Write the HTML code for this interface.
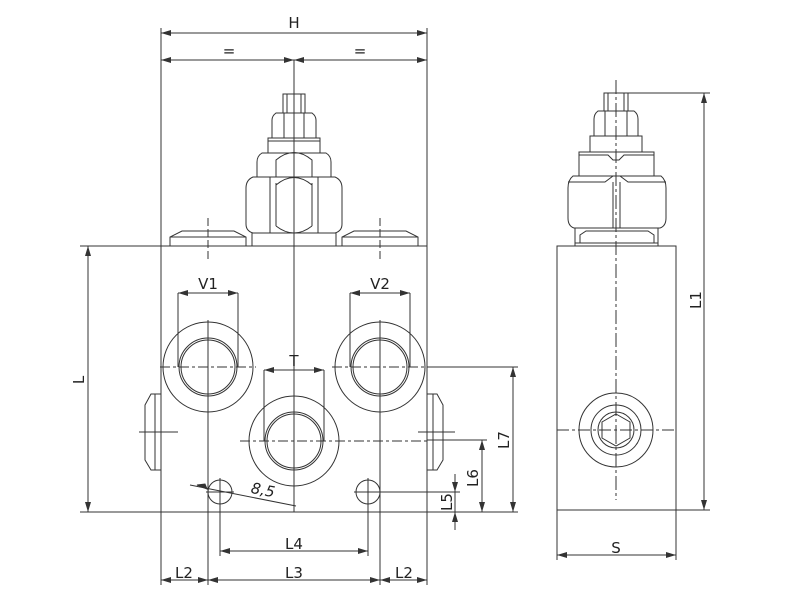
<!DOCTYPE html>
<html><head><meta charset="utf-8"><style>
html,body{margin:0;padding:0;background:#fff;}
svg{display:block}
text{font-family:"DejaVu Sans","Liberation Sans",sans-serif;fill:#222;font-size:15px}
</style></head><body>
<svg width="800" height="600" viewBox="0 0 800 600" xmlns="http://www.w3.org/2000/svg">
<defs>
<marker id="a" viewBox="0 0 10 6" refX="10" refY="3" markerWidth="10" markerHeight="6" orient="auto-start-reverse" markerUnits="userSpaceOnUse"><path d="M0,0 L10,3 L0,6 z" fill="#333"/></marker>
</defs>
<g stroke="#333" stroke-width="1" fill="none">
<!-- main block -->
<rect x="161" y="246" width="266" height="266"/>
<!-- extension lines -->
<line x1="161" y1="28" x2="161" y2="585"/>
<line x1="427" y1="28" x2="427" y2="585"/>
<line x1="80" y1="246" x2="161" y2="246"/>
<line x1="80" y1="512" x2="161" y2="512"/>
<line x1="294" y1="60" x2="294" y2="512"/>
<!-- dims -->
<line x1="161" y1="33" x2="427" y2="33" marker-start="url(#a)" marker-end="url(#a)"/>
<line x1="161" y1="60" x2="294" y2="60" marker-start="url(#a)" marker-end="url(#a)"/>
<line x1="294" y1="60" x2="427" y2="60" marker-start="url(#a)" marker-end="url(#a)"/>
<line x1="88" y1="246" x2="88" y2="512" marker-start="url(#a)" marker-end="url(#a)"/>
<!-- nut stack -->
<rect x="283" y="94" width="22" height="19"/>
<line x1="287" y1="94" x2="287" y2="113"/><line x1="301" y1="94" x2="301" y2="113"/>
<path d="M276,113 L312,113 Q316,116 316,120 L316,138 L272,138 L272,120 Q272,116 276,113z"/>
<path d="M284,113 L284,138 M304,113 L304,138"/>
<rect x="268" y="138" width="52" height="15"/>
<line x1="268" y1="141" x2="320" y2="141"/>
<path d="M262,153 L326,153 Q331,156 331,162 L331,177 L257,177 L257,162 Q257,156 262,153z"/>
<path d="M276,177 L276,160 Q294,145 312,160 L312,177"/>
<path d="M253,177 L335,177 Q342,180 342,188 L342,224 Q342,231 335,233 L253,233 Q246,231 246,224 L246,188 Q246,180 253,177z"/>
<path d="M270,177 L270,233 M276,183 L276,226 M318,177 L318,233 M312,183 L312,226"/>
<path d="M276,185 Q294,170 312,185 M276,226 Q294,240 312,226"/>
<rect x="252" y="233" width="84" height="13"/>
<!-- pads -->
<path d="M170,246 L170,237 L182,231 L234,231 L246,237 L246,246"/>
<line x1="170" y1="237" x2="246" y2="237"/>
<path d="M342,246 L342,237 L354,231 L406,231 L418,237 L418,246"/>
<line x1="342" y1="237" x2="418" y2="237"/>
<line x1="208" y1="218" x2="208" y2="262" stroke-dasharray="8,3"/>
<line x1="380" y1="218" x2="380" y2="262" stroke-dasharray="8,3"/>
<!-- V1 -->
<circle cx="208" cy="367" r="45"/><circle cx="208" cy="367" r="29"/><circle cx="208" cy="367" r="27"/>
<line x1="160" y1="367" x2="256" y2="367" stroke-dasharray="10,3,3,3"/>
<line x1="208" y1="320" x2="208" y2="585"/>
<line x1="178" y1="293" x2="178" y2="367"/><line x1="238" y1="293" x2="238" y2="367"/>
<line x1="178" y1="293" x2="238" y2="293" marker-start="url(#a)" marker-end="url(#a)"/>
<!-- V2 -->
<circle cx="380" cy="367" r="45"/><circle cx="380" cy="367" r="29"/><circle cx="380" cy="367" r="27"/>
<line x1="332" y1="367" x2="427" y2="367" stroke-dasharray="10,3,3,3"/>
<line x1="427" y1="367" x2="518" y2="367"/>
<line x1="380" y1="320" x2="380" y2="585"/>
<line x1="350" y1="293" x2="350" y2="367"/><line x1="410" y1="293" x2="410" y2="367"/>
<line x1="350" y1="293" x2="410" y2="293" marker-start="url(#a)" marker-end="url(#a)"/>
<!-- T -->
<circle cx="294" cy="441" r="45"/><circle cx="294" cy="441" r="29"/><circle cx="294" cy="441" r="27"/>
<line x1="240" y1="441" x2="427" y2="441" stroke-dasharray="10,3,3,3"/>
<line x1="427" y1="440" x2="487" y2="440"/>
<line x1="264" y1="370" x2="264" y2="441"/><line x1="324" y1="370" x2="324" y2="441"/>
<line x1="264" y1="370" x2="324" y2="370" marker-start="url(#a)" marker-end="url(#a)"/>
<!-- side plugs -->
<path d="M161,394 L151,394 L145,405 L145,460 L151,470 L161,470"/>
<line x1="155" y1="394" x2="155" y2="470"/>
<line x1="139" y1="432" x2="178" y2="432"/>
<path d="M427,394 L437,394 L443,405 L443,460 L437,470 L427,470"/>
<line x1="433" y1="394" x2="433" y2="470"/>
<line x1="418" y1="432" x2="455" y2="432"/>
<!-- small holes -->
<circle cx="220" cy="492" r="12"/><circle cx="368" cy="492" r="12"/>
<line x1="220" y1="478" x2="220" y2="556"/><line x1="368" y1="478" x2="368" y2="556"/>
<line x1="206" y1="492" x2="234" y2="492"/>
<line x1="354" y1="492" x2="460" y2="492"/>
<line x1="190" y1="485" x2="296" y2="506"/>
<path d="M197,485 L207,489 L205,484z" fill="#333"/>
<!-- bottom dims -->
<line x1="220" y1="551" x2="368" y2="551" marker-start="url(#a)" marker-end="url(#a)"/>
<line x1="161" y1="580" x2="208" y2="580" marker-start="url(#a)" marker-end="url(#a)"/>
<line x1="208" y1="580" x2="380" y2="580" marker-start="url(#a)" marker-end="url(#a)"/>
<line x1="380" y1="580" x2="427" y2="580" marker-start="url(#a)" marker-end="url(#a)"/>
<!-- right dims -->
<line x1="427" y1="512" x2="518" y2="512"/>
<line x1="513" y1="367" x2="513" y2="512" marker-start="url(#a)" marker-end="url(#a)"/>
<line x1="482" y1="440" x2="482" y2="512" marker-start="url(#a)" marker-end="url(#a)"/>
<line x1="455" y1="474" x2="455" y2="492" marker-end="url(#a)"/>
<line x1="455" y1="530" x2="455" y2="512" marker-end="url(#a)"/>
<line x1="455" y1="492" x2="455" y2="512"/>

<!-- side view -->
<rect x="557" y="246" width="119" height="264"/>
<line x1="616" y1="80" x2="616" y2="430" stroke-dasharray="14,3,3,3"/>
<line x1="616" y1="430" x2="616" y2="500" stroke-dasharray="14,3,3,3"/>
<rect x="604" y="93" width="24" height="18"/>
<line x1="608" y1="93" x2="608" y2="111"/><line x1="624" y1="93" x2="624" y2="111"/>
<path d="M598,111 L634,111 Q638,114 638,119 L638,136 L594,136 L594,119 Q594,114 598,111z"/>
<path d="M605,111 L605,136 M627,111 L627,136"/>
<rect x="590" y="136" width="52" height="16"/>
<path d="M579,152 L654,152 L654,176 L579,176z"/>
<path d="M579,155 L608,155 L613,160 L619,160 L624,155 L654,155"/>
<path d="M573,176 L661,176 Q666,180 666,188 L666,218 Q666,226 660,228 L574,228 Q568,226 568,218 L568,188 Q568,180 573,176z"/>
<path d="M568,182 L605,182 L613,176 M666,182 L628,182 L620,176 M613,182 L613,228 M620,182 L620,228"/>
<path d="M575,228 L575,243 L658,243 L658,228"/>
<path d="M580,243 L580,235 L586,231 L648,231 L654,235 L654,243"/>
<rect x="575" y="243" width="83" height="3"/>
<circle cx="616" cy="430" r="37"/><circle cx="616" cy="430" r="25"/><circle cx="616" cy="430" r="18"/>
<path d="M616,414 L630,422 L630,438 L616,446 L602,438 L602,422z"/>
<line x1="557" y1="430" x2="676" y2="430" stroke-dasharray="12,3,3,3"/>
<line x1="557" y1="510" x2="557" y2="560"/><line x1="676" y1="510" x2="676" y2="560"/>
<line x1="557" y1="555" x2="676" y2="555" marker-start="url(#a)" marker-end="url(#a)"/>
<line x1="628" y1="93" x2="710" y2="93"/>
<line x1="676" y1="510" x2="710" y2="510"/>
<line x1="704" y1="93" x2="704" y2="510" marker-start="url(#a)" marker-end="url(#a)"/>
</g>
<g>
<text x="294" y="28" text-anchor="middle">H</text>
<text x="229" y="56" text-anchor="middle">=</text>
<text x="360" y="56" text-anchor="middle">=</text>
<text x="208" y="289" text-anchor="middle">V1</text>
<text x="380" y="289" text-anchor="middle">V2</text>
<text x="294" y="366" text-anchor="middle">T</text>
<text x="294" y="549" text-anchor="middle">L4</text>
<text x="184" y="578" text-anchor="middle">L2</text>
<text x="294" y="578" text-anchor="middle">L3</text>
<text x="404" y="578" text-anchor="middle">L2</text>
<text x="616" y="553" text-anchor="middle">S</text>
<text transform="translate(262,495) rotate(11)" text-anchor="middle" font-style="italic">8,5</text>
<text transform="translate(84,380) rotate(-90)" text-anchor="middle">L</text>
<text transform="translate(701,300) rotate(-90)" text-anchor="middle">L1</text>
<text transform="translate(509,440) rotate(-90)" text-anchor="middle">L7</text>
<text transform="translate(478,478) rotate(-90)" text-anchor="middle">L6</text>
<text transform="translate(452,502) rotate(-90)" text-anchor="middle">L5</text>
</g>
</svg>
</body></html>
